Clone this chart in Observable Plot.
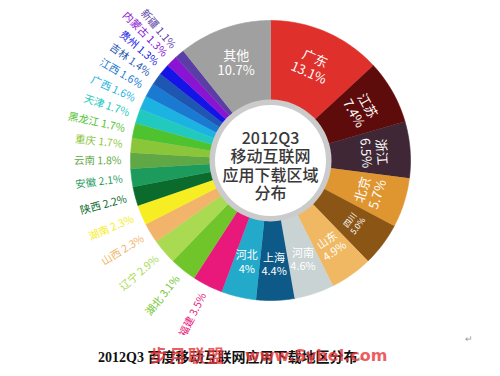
<!DOCTYPE html>
<html><head><meta charset="utf-8">
<script src="https://cdn.jsdelivr.net/npm/d3@7"></script>
<script src="https://cdn.jsdelivr.net/npm/@observablehq/plot@0.6"></script>
<style>
body{margin:0;background:#fff;font-family:"Noto Sans CJK SC",sans-serif}
#wrap{position:relative;width:500px;height:376px;overflow:hidden}
#chart svg{display:block}
#caption{position:absolute;left:98px;top:348px;font:bold 14px "Liberation Serif","Noto Sans CJK SC",serif;color:#111;white-space:nowrap;line-height:20px}
#mark1{position:absolute;left:150px;top:344px;font:bold 17px "Noto Sans CJK SC",sans-serif;line-height:22px;color:#e8383a;opacity:.8;letter-spacing:2px;white-space:nowrap}
#mark2{position:absolute;left:245px;top:346px;font:bold 16px "DejaVu Sans",sans-serif;line-height:20px;color:#e8383a;opacity:.8;white-space:nowrap}
.ret{color:#999;font-size:9px;font-weight:normal}
#ret2{position:absolute;left:465px;top:332px;color:#999;font-size:9px}
</style></head><body>
<div id="wrap"><div id="chart"></div>
<div id="caption"></div><div id="mark1"></div><div id="mark2"></div><div id="ret2">↵</div></div>
<script>
const regions = ["广东","江苏","浙江","北京","四川","山东","河南","上海","河北","福建","湖北","辽宁","山西","湖南","陕西","安徽","云南","重庆","黑龙江","天津","广西","江西","吉林","贵州","内蒙古","新疆","其他"];
const shares = [13.1,7.4,6.5,5.7,5.0,4.9,4.6,4.4,4,3.5,3.1,2.9,2.3,2.3,2.2,2.1,1.8,1.7,1.7,1.7,1.6,1.6,1.4,1.3,1.3,1.1,10.7];
const shareText = ["13.1%","7.4%","6.5%","5.7%","5.0%","4.9%","4.6%","4.4%","4%","3.5%","3.1%","2.9%","2.3%","2.3%","2.2%","2.1%","1.8%","1.7%","1.7%","1.7%","1.6%","1.6%","1.4%","1.3%","1.3%","1.1%","10.7%"];
const colors = ["#e0302b","#5e0b0b","#3f2735","#df9530","#8a5515","#f0b862","#c9d3d3","#0d5a88","#23a9c9","#e8197b","#6fc52a","#a9da52","#f1b46a","#f6ee22","#0b6b2c","#1d9b5c","#5fa845","#8ac53a","#4fc22f","#22c9be","#1cb2e2","#1a7ad2","#1d57b2","#1414e6","#8a14d2","#5a3ea6","#a0a0a0"];
const centerLines = ["2012Q3","移动互联网","应用下载区域","分布"];
const captionText = "2012Q3 百度移动互联网应用下载地区分布";
const watermark = ["步月联盟","www.Sybel.com"];

const R = 140, R0 = 52, W = 500, H = 335;
const total = d3.sum(shares);
let acc = 0;
const slices = regions.map((name, i) => {
  const a0 = acc / total * 360; acc += shares[i];
  const a1 = acc / total * 360;
  return {name, share: shares[i], text: shareText[i], color: colors[i], a0, a1, mid: (a0 + a1) / 2};
});
const rad = a => a * Math.PI / 180;
const px = (r, a) => r * Math.sin(rad(a));
const py = (r, a) => -r * Math.cos(rad(a));

const poly = [];
for (const s of slices) {
  const n = Math.max(4, Math.ceil(s.a1 - s.a0));
  for (let k = 0; k <= n; k++) { const a = s.a0 + (s.a1 - s.a0) * k / n; poly.push({name: s.name, color: s.color, x: px(R, a), y: py(R, a)}); }
  for (let k = n; k >= 0; k--) { const a = s.a0 + (s.a1 - s.a0) * k / n; poly.push({name: s.name, color: s.color, x: px(R0, a), y: py(R0, a)}); }
}

const inside = slices.filter(s => s.share >= 4 || s.name === "其他");
const outside = slices.filter(s => !(s.share >= 4 || s.name === "其他"));
const smallInside = new Set(["四川"]);
const innerRot = s => s.mid < 100 ? s.mid : s.mid < 150 ? s.mid - 180 : 0;
const innerSize = s => smallInside.has(s.name) ? 8 : s.share >= 5.5 ? 13 : 11;
const innerWeight = s => s.share >= 5.5 ? "bold" : 600;
const rIn = 104, rOut = R + 9;

const chart = Plot.plot({
  width: W, height: H, margin: 0,
  x: {domain: [-270, 230], axis: null},
  y: {domain: [175, -160], axis: null},
  style: {background: "white"},
  marks: [
    Plot.line(poly, {x: "x", y: "y", z: "name", fill: "color", stroke: "color", strokeWidth: 0.6}),
    Plot.dot([0], {x: () => 0, y: () => 0, r: 61, fill: "#cbcbcb", stroke: "none"}),
    Plot.dot([0], {x: () => 0, y: () => 0, r: 55.5, fill: "white", stroke: "none"}),
    Plot.text([centerLines.join("\n")], {x: () => 0, y: () => 5, text: d => d, fontSize: 16, lineHeight: 1.15, fill: "#383838", fontWeight: 500, fontFamily: "Noto Sans CJK SC"}),
    Plot.text(inside, {x: s => px(rIn, s.mid), y: s => py(rIn, s.mid), text: s => s.name + "\n" + s.text, rotate: innerRot, fontSize: innerSize, fill: "white", fontWeight: innerWeight, lineHeight: 1.2, fontFamily: "Noto Sans CJK SC"}),
    Plot.text(outside, {x: s => px(rOut, s.mid), y: s => py(rOut, s.mid), text: s => s.name + " " + s.text, rotate: s => s.mid - 270, textAnchor: "end", fontSize: 10.5, fill: "color", fontFamily: "Noto Sans CJK SC"})
  ]
});
document.getElementById("chart").append(chart);
document.getElementById("caption").innerHTML = captionText + '<span class="ret">↵</span>';
document.getElementById("mark1").textContent = watermark[0];
document.getElementById("mark2").textContent = watermark[1];
</script></body></html>
